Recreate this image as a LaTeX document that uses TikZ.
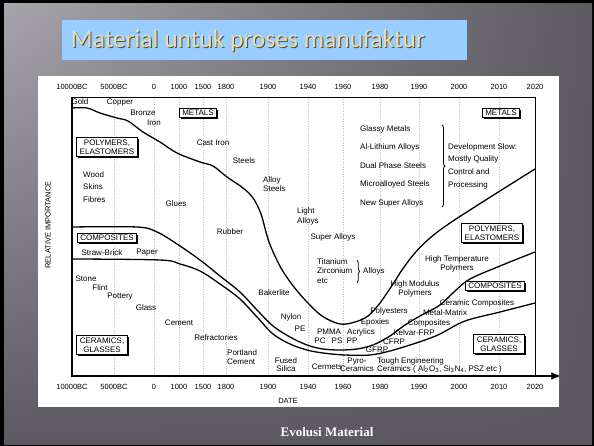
\documentclass[tikz,border=0pt]{standalone}
\usepackage{fontspec}
\setmainfont{Liberation Sans}
\newfontfamily\titlefont{Carlito}
\newfontfamily\capfont{Liberation Serif}
\usetikzlibrary{arrows, shadows, shadings, decorations.pathreplacing}

\definecolor{slidedark}{HTML}{5C5960}
\definecolor{slidelight}{HTML}{A8A4AC}
\definecolor{titleblue}{HTML}{99CCFF}
\definecolor{titlegold}{HTML}{EADDA8}

\tikzset{
    %Define standard arrow tip
    >=stealth',
    %Define style for chart labels
    lbl/.style={
           inner sep=0pt,
           font=\fontsize{8}{9}\selectfont},
    datelbl/.style={
           inner sep=0pt,
           font=\fontsize{7.5}{8.5}\selectfont},
    %labels on several lines
    stack/.style={
           lbl,
           align=left,
           font=\fontsize{8}{#1}\selectfont},
    stackc/.style={
           lbl,
           align=center,
           font=\fontsize{8}{#1}\selectfont},
    %Define style for the material boxes
    cls/.style={
           rectangle,
           draw=black, thick,
           fill=white,
           inner xsep=3pt, inner ysep=2pt,
           align=center,
           font=\fontsize{8}{9.5}\selectfont,
           drop shadow={shadow xshift=1.6pt, shadow yshift=-1.6pt, fill=black, opacity=1}},
    % Define style for the band curves
    band/.style={
           line width=1.3pt,
           line join=round},
    % axis and date lines
    axis/.style={
           line width=1.7pt},
    dategrid/.style={
           gray!50,
           dotted}
}

\begin{document}
\begin{tikzpicture}[x=1pt, y=-1pt]
\useasboundingbox (0,0) rectangle (594,446);

%slide
\fill[black] (0,0) rectangle (594,446);
\shade[upper left=slidelight, upper right=slidedark, lower left=slidedark, lower right=slidedark] (4,4) rectangle (592,444);
\fill[titleblue] (62,20) rectangle (467,60);
\node[text=black!70, font=\titlefont\fontsize{25.5}{28}\selectfont] (titleshade) at (249,42) {Material untuk proses manufaktur};
\node[text=titlegold, font=\titlefont\fontsize{25.5}{28}\selectfont] (title) at (248,41) {Material untuk proses manufaktur};
\fill[white] (38,76) rectangle (559,407);

%dates
\foreach \px/\yr [count=\i] in {72/10000BC, 114/5000BC, 154/0, 179/1000, 203/1500, 226/1800, 268/1900, 308/1940, 343/1960, 380/1980, 419/1990, 459/2000, 499/2010, 535/2020}{
  \draw[dategrid] (\px,97) -- (\px,376);
  \node[datelbl] (top\i) at (\px,87) {\yr};
  \node[datelbl] (bot\i) at (\px,387) {\yr};
}
\coordinate (ytop) at (72,97);
\coordinate (o) at (72,376);
\coordinate (xend) at (559,376);
\coordinate (frametop) at (535,97);
\coordinate (framebot) at (535,376);
\draw[thin] (ytop) -- (frametop) -- (framebot);
\draw[axis, ->] (ytop) -- (o) -- (xend);
\node[datelbl] (date) at (288,401) {DATE};
\node[datelbl, rotate=90] (relimp) at (48,225) {RELATIVE IMPORTANCE};

%band curves
\draw[band] plot[smooth, tension=0.55] coordinates {(72,108) (87,108) (100,113) (117,118) (128,121) (143,132) (160,142) (177,153) (200,162) (213,166) (227,177) (243,188) (253,198) (261,214) (269,242) (281,268) (294,287) (307,302) (322,316) (340,324) (355,322) (368,316) (380,303) (393,284) (402,270) (414,254) (430,238) (450,223) (492,196) (535,169)};
\draw[band] plot[smooth, tension=0.55] coordinates {(72,227) (137,227) (157,232) (177,244) (200,260) (220,276) (240,292) (257,310) (273,326) (290,337) (307,345) (323,349) (340,350) (357,349) (373,345) (390,336) (405,325) (420,316) (440,305) (455,291) (470,279) (500,266) (535,252)};
\draw[band] plot[smooth, tension=0.55] coordinates {(72,259) (160,260) (180,264) (200,271) (220,284) (240,299) (257,317) (273,334) (290,344) (307,350) (323,353) (345,355) (370,355) (390,351) (410,345) (425,340) (440,334) (465,321) (500,312) (535,303)};

%metals
\node[lbl] (gold) at (80,102) {Gold};
\node[lbl] (copper) at (120,103) {Copper};
\node[lbl] (bronze) at (143,113) {Bronze};
\node[lbl] (iron) at (154,123) {Iron};
\node[cls] (metalsL) at (198,113) {METALS};
\node[lbl] (castiron) at (213,143) {Cast Iron};
\node[lbl] (steels) at (244,161) {Steels};
\node[stack=8.5, anchor=west] (alloysteels) at (263,184) {Alloy\\Steels};
\node[stack=10, anchor=west] (lightalloys) at (297,216) {Light\\Alloys};
\node[lbl] (superalloys) at (333,237) {Super Alloys};
\node[stack=9.5, anchor=west] (titanium) at (317,271) {Titanium\\Zirconium\\etc};
\draw[thick, decorate, decoration={brace, amplitude=2.5pt}] (357,260) -- (357,283);
\node[lbl, anchor=west] (alloys) at (363,271) {Alloys};
\node[stack=18.5, anchor=west] (newmetals) at (360,166) {Glassy Metals\\Al-Lithium Alloys\\Dual Phase Steels\\Microalloyed Steels\\New Super Alloys};
\draw[thick, decorate, decoration={brace, amplitude=3pt}] (442,125) -- (442,207);
\node[stack=12.7, anchor=west] (devslow) at (448,166) {Development Slow:\\Mostly Quality\\Control and\\Processing};
\node[cls] (metalsR) at (501,113) {METALS};

%polymers
\node[cls] (polyL) at (107,147) {POLYMERS,\\ELASTOMERS};
\node[stack=12.5, anchor=west] (wood) at (83,187) {Wood\\Skins\\Fibres};
\node[lbl] (glues) at (176,204) {Glues};
\node[lbl] (rubber) at (230,232) {Rubber};
\node[lbl] (bakerlite) at (274,293) {Bakerlite};
\node[lbl] (nylon) at (291,317) {Nylon};
\node[lbl] (pe) at (300,329) {PE};
\node[lbl] (pmma) at (329,332) {PMMA};
\node[lbl] (acrylics) at (361,332) {Acrylics};
\node[lbl] (pc) at (320,341) {PC};
\node[lbl] (ps) at (337,341) {PS};
\node[lbl] (pp) at (352,341) {PP};
\node[lbl] (epoxies) at (375,322) {Epoxies};
\node[lbl] (polyesters) at (389,311) {Polyesters};
\node[stackc=9] (highmod) at (415,289) {High Modulus\\Polymers};
\node[stackc=9] (hightemp) at (457,264) {High Temperature\\Polymers};
\node[cls] (polyR) at (492,233) {POLYMERS,\\ELASTOMERS};

%composites
\node[cls] (compL) at (107,238) {COMPOSITES};
\node[lbl] (straw) at (102,253) {Straw-Brick};
\node[lbl] (paper) at (147,253) {Paper};
\node[lbl] (gfrp) at (377,350) {GFRP};
\node[lbl] (cfrp) at (394,342) {CFRP};
\node[lbl] (kelvar) at (414,333) {Kelvar-FRP};
\node[lbl] (metalmatrix) at (445,313) {Metal-Matrix};
\node[lbl] (mmcomp) at (429,323) {Composites};
\node[lbl] (ceramcomp) at (477,303) {Ceramic Composites};
\node[cls] (compR) at (495,286) {COMPOSITES};

%ceramics
\node[cls] (ceramL) at (102,345) {CERAMICS,\\GLASSES};
\node[lbl] (stone) at (86,279) {Stone};
\node[lbl] (flint) at (100,288) {Flint};
\node[lbl] (pottery) at (120,297) {Pottery};
\node[lbl] (glass) at (146,308) {Glass};
\node[lbl] (cement) at (179,323) {Cement};
\node[lbl] (refract) at (216,338) {Refractories};
\node[stack=9, anchor=west] (portland) at (227,357) {Portland\\Cement};
\node[stackc=8] (fused) at (286,365) {Fused\\Silica};
\node[lbl] (cermets) at (327,367) {Cermets};
\node[stackc=8] (pyro) at (357,365) {Pyro-\\Ceramics};
\node[stack=8, anchor=west] (tough) at (377,365) {Tough Engineering\\Ceramics ( Al\textsubscript{2}O\textsubscript{3}, Si\textsubscript{3}N\textsubscript{4}, PSZ etc )};
\node[cls] (ceramR) at (499,344) {CERAMICS,\\GLASSES};

\node[text=white, font=\capfont\bfseries\fontsize{13}{15}\selectfont] (caption) at (327,432) {Evolusi Material};

\end{tikzpicture}
\end{document}
